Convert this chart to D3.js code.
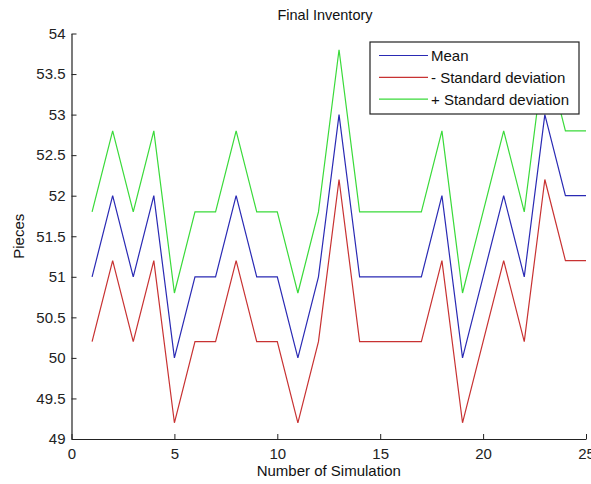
<!DOCTYPE html>
<html><head><meta charset="utf-8">
<script src="https://cdn.jsdelivr.net/npm/d3@7"></script>
<style>body{margin:0;background:#fff;} svg{display:block;font-family:Arial,"Liberation Sans",sans-serif;}</style>
</head><body><svg id="c" width="591" height="484"></svg>
<script>
const simulations = [1,2,3,4,5,6,7,8,9,10,11,12,13,14,15,16,17,18,19,20,21,22,23,24,25];
const meanValues = [51,52,51,52,50,51,51,52,51,51,50,51,53,51,51,51,51,52,50,51,52,51,53,52,52];
const minusSD = [50.2,51.2,50.2,51.2,49.2,50.2,50.2,51.2,50.2,50.2,49.2,50.2,52.2,50.2,50.2,50.2,50.2,51.2,49.2,50.2,51.2,50.2,52.2,51.2,51.2];
const plusSD = [51.8,52.8,51.8,52.8,50.8,51.8,51.8,52.8,51.8,51.8,50.8,51.8,53.8,51.8,51.8,51.8,51.8,52.8,50.8,51.8,52.8,51.8,53.8,52.8,52.8];
const xTicks = [0,5,10,15,20,25];
const yTicks = [49,49.5,50,50.5,51,51.5,52,52.5,53,53.5,54];
const seriesNames = ["Mean","- Standard deviation","+ Standard deviation"];
const seriesColors = ["#2a2ab4","#c83232","#3ada3a"];

const svg = d3.select("#c");
const x = d3.scaleLinear().domain([0,25]).range([71.5,586]);
const y = d3.scaleLinear().domain([49,54]).range([439,33.5]);

const series = [meanValues, minusSD, plusSD];
const line = d3.line().x((d,i)=>x(simulations[i])).y(d=>y(d));
series.forEach((s,k)=>{
  svg.append("path").attr("d", line(s)).attr("fill","none")
    .attr("stroke", seriesColors[k]).attr("stroke-width",1.2);
});

const xAxis = svg.append("g").attr("transform",`translate(0,${y(49)})`)
  .call(d3.axisBottom(x).tickValues(xTicks).tickSizeInner(-5).tickSizeOuter(0).tickPadding(9).tickFormat(d3.format("d")));
const yAxis = svg.append("g").attr("transform",`translate(${x(0)},0)`)
  .call(d3.axisLeft(y).tickValues(yTicks).tickSizeInner(-5).tickSizeOuter(0).tickPadding(6).tickFormat(d=>String(d)));
[xAxis,yAxis].forEach(g=>{
  g.select(".domain").attr("stroke","#222").attr("stroke-width",1.2);
  g.selectAll(".tick line").attr("stroke","#222");
  g.selectAll("text").attr("fill","#222").style("font-size","15px").style("font-family","Arial,'Liberation Sans',sans-serif");
});

svg.append("text").attr("x",325).attr("y",20).attr("text-anchor","middle")
  .style("font-size","14.5px").attr("fill","#111").text("Final Inventory");
svg.append("text").attr("x",x(12.5)).attr("y",476).attr("text-anchor","middle")
  .style("font-size","15px").attr("fill","#111").text("Number of Simulation");
svg.append("text").attr("transform",`translate(24,${y(51.5)}) rotate(-90)`).attr("text-anchor","middle")
  .style("font-size","15px").attr("fill","#111").text("Pieces");

const lg = svg.append("g");
lg.append("rect").attr("x",370).attr("y",42).attr("width",209).attr("height",72)
  .attr("fill","#fff").attr("stroke","#222").attr("stroke-width",1.2);
seriesNames.forEach((n,k)=>{
  const yy = 55.5 + k*21.8;
  lg.append("line").attr("x1",379).attr("x2",428).attr("y1",yy).attr("y2",yy)
    .attr("stroke",seriesColors[k]).attr("stroke-width",1.2);
  lg.append("text").attr("x",431).attr("y",yy+5.5).style("font-size","15px").attr("fill","#111").text(n);
});
</script></body></html>
